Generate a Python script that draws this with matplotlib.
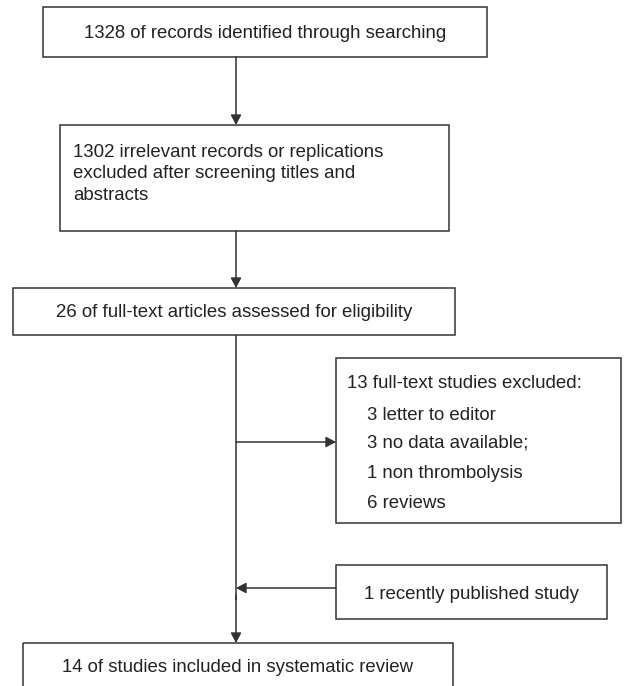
import matplotlib
matplotlib.use("Agg")
import matplotlib.pyplot as plt
from matplotlib.patches import Rectangle, FancyArrowPatch

# ---- content ----
box1_text = "1328 of records identified through searching"
box2_lines = ["1302 irrelevant records or replications",
              "excluded after screening titles and",
              "abstracts"]
box3_text = "26 of full-text articles assessed for eligibility"
box5_text = "14 of studies included in systematic review"
excluded_title = "13 full-text studies excluded:"
excluded_items = ["3 letter to editor", "3 no data available;", "1 non thrombolysis", "6 reviews"]
added_text = "1 recently published study"

# ---- layout (pixel coordinates, y downward) ----
W, H = 624, 686
fig = plt.figure(figsize=(W / 100, H / 100), dpi=100)
ax = fig.add_axes([0, 0, 1, 1])
ax.set_xlim(0, W)
ax.set_ylim(H, 0)
ax.axis("off")

EC = "#333333"
TC = "#222222"
FONT = "Liberation Sans"
FS = 13.4
LW = 1.1
DY = 1.5

def box(x0, y0, x1, y1):
    ax.add_patch(Rectangle((x0, y0), x1 - x0, y1 - y0, fill=False, ec=EC, lw=LW))

def arrow(p0, p1):
    ax.add_patch(FancyArrowPatch(p0, p1, arrowstyle="-|>,head_length=0.6,head_width=0.32",
                                 mutation_scale=10, color=EC, lw=LW, shrinkA=0, shrinkB=0))

def line(p0, p1):
    ax.plot([p0[0], p1[0]], [p0[1], p1[1]], color=EC, lw=LW, solid_capstyle="butt")

def txt(x, y, s, ha="left"):
    ax.text(x, y + DY, s, ha=ha, va="center", fontsize=FS, family=FONT, color=TC)

# Box 1
box(43, 7, 487, 57)
txt(265, 32, box1_text, ha="center")
arrow((236, 57), (236, 125))

# Box 2
box(60, 125, 449, 231)
for s, y in zip(box2_lines, [151, 172.5, 194]):
    txt(73, y, s)
arrow((236, 231), (236, 288))

# Box 3
box(13, 288, 455, 335)
txt(234, 311, box3_text, ha="center")

# Main vertical
line((236, 335), (236, 600))
arrow((236, 595), (236, 643))

# Excluded branch
arrow((236, 442), (336, 442))
box(336, 358, 621, 523)
txt(347, 382, excluded_title)
for s, y in zip(excluded_items, [414, 442, 472, 502]):
    txt(367, y, s)

# Added branch
box(336, 565, 607, 619)
txt(471, 593, added_text, ha="center")
arrow((336, 588), (236, 588))

# Box 5
box(23, 643, 453, 700)
txt(238, 666, box5_text, ha="center")

fig.savefig("out.png", dpi=100, facecolor="white")
